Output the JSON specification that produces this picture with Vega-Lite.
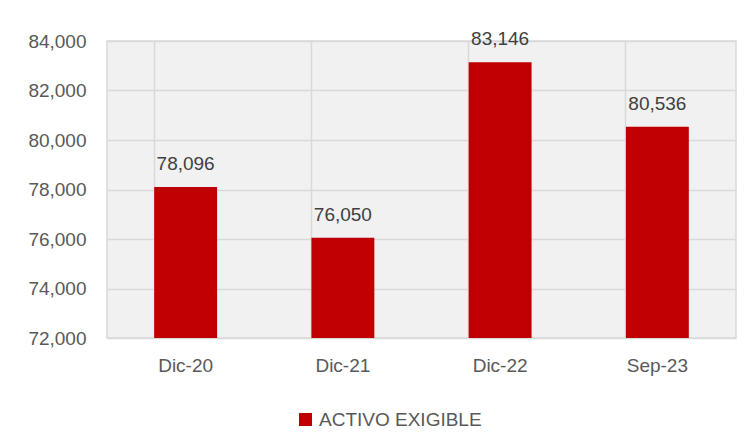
{
  "$schema": "https://vega.github.io/schema/vega-lite/v6.json",
  "width": 629,
  "height": 297,
  "autosize": {"type": "none"},
  "padding": {"left": 107, "top": 41, "right": 18, "bottom": 110},
  "background": "white",
  "config": {
    "font": "Liberation Sans",
    "view": {"fill": "#f1f1f1", "stroke": "#d9d9d9", "strokeWidth": 1.5}
  },
  "data": {
    "values": [
      {"periodo": "Dic-20", "valor": 78096, "serie": "ACTIVO EXIGIBLE"},
      {"periodo": "Dic-21", "valor": 76050, "serie": "ACTIVO EXIGIBLE"},
      {"periodo": "Dic-22", "valor": 83146, "serie": "ACTIVO EXIGIBLE"},
      {"periodo": "Sep-23", "valor": 80536, "serie": "ACTIVO EXIGIBLE"}
    ]
  },
  "encoding": {
    "x": {
      "field": "periodo",
      "type": "nominal",
      "sort": null,
      "title": null,
      "scale": {"paddingInner": 0.6, "paddingOuter": 0.3},
      "axis": {
        "labelAngle": 0,
        "labelFont": "Liberation Sans",
        "labelFontSize": 19,
        "labelColor": "#595959",
        "labelPadding": 18,
        "ticks": false,
        "domain": false,
        "grid": true,
        "bandPosition": 0,
        "gridColor": "#d9d9d9",
        "gridWidth": 1.5
      }
    },
    "y": {
      "field": "valor",
      "type": "quantitative",
      "title": null,
      "scale": {"domain": [72000, 84000], "zero": false, "nice": false},
      "axis": {
        "values": [72000, 74000, 76000, 78000, 80000, 82000, 84000],
        "format": ",.0f",
        "labelFont": "Liberation Sans",
        "labelFontSize": 19,
        "labelColor": "#595959",
        "labelPadding": 21,
        "ticks": false,
        "domain": false,
        "gridColor": "#d9d9d9",
        "gridWidth": 1.5
      }
    }
  },
  "layer": [
    {
      "mark": {"type": "bar", "clip": true},
      "encoding": {
        "color": {
          "field": "serie",
          "type": "nominal",
          "scale": {"range": ["#c00000"]},
          "legend": {
            "title": null,
            "orient": "none",
            "legendX": 189,
            "legendY": 369,
            "symbolType": "square",
            "symbolSize": 169,
            "symbolStrokeWidth": 0,
            "labelFont": "Liberation Sans",
            "labelFontSize": 19,
            "labelLimit": 400,
            "labelColor": "#595959",
            "labelOffset": 4
          }
        }
      }
    },
    {
      "mark": {
        "type": "text",
        "baseline": "alphabetic",
        "dy": -17,
        "fontSize": 19,
        "font": "Liberation Sans",
        "color": "#404040"
      },
      "encoding": {
        "text": {"field": "valor", "type": "quantitative", "format": ",.0f"}
      }
    }
  ]
}
